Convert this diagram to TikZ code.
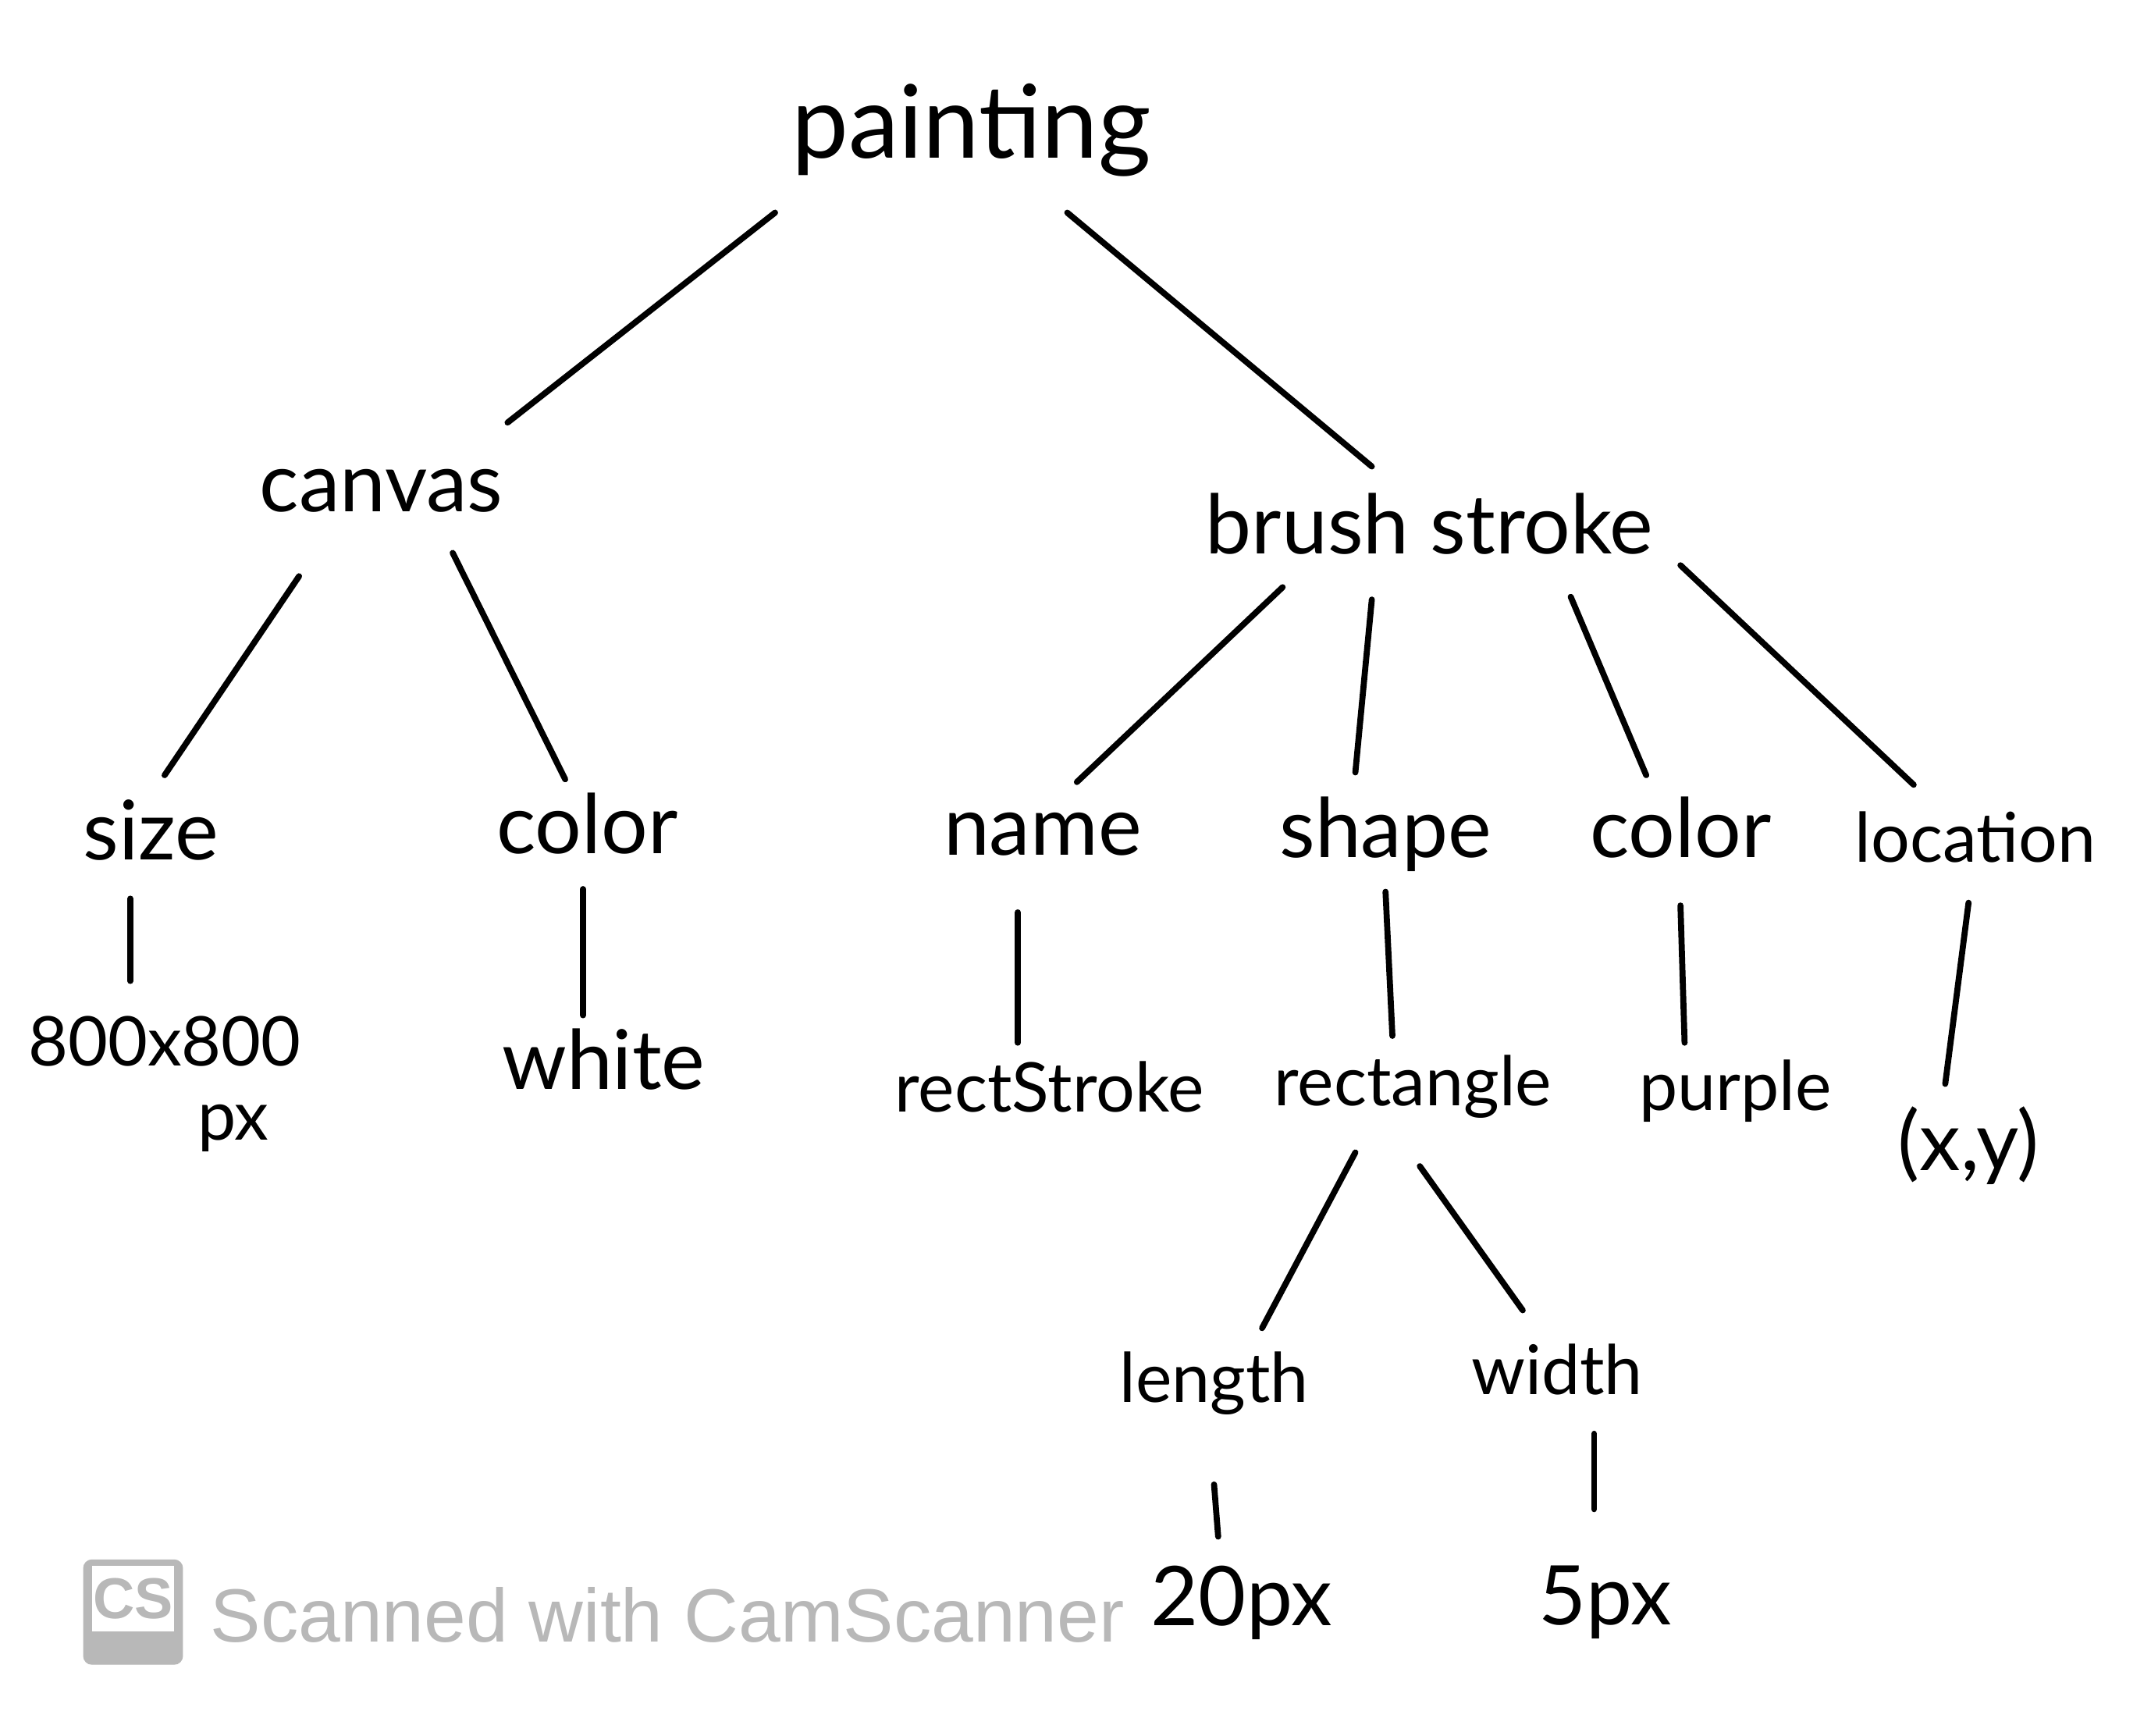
\documentclass[tikz,border=0pt]{standalone}
\usepackage{fontspec}
\setmainfont{Lato}
\newfontfamily\wmfont{Liberation Sans}
\begin{document}
\begin{tikzpicture}[x=0.017577cm,y=-0.017577cm,
  lbl/.style={font=\fontsize{30}{34}\selectfont, inner sep=4pt, align=center},
  sml/.style={lbl, font=\fontsize{25}{29}\selectfont},
  big/.style={lbl, font=\fontsize{37}{40}\selectfont},
  edge/.style={line width=2.2pt, line cap=round},
  wm/.style={text=black!28, font=\wmfont\fontsize{27.5}{32}\selectfont, inner sep=0pt}]
\useasboundingbox (0,0) rectangle (1568,1265);
\fill[white] (0,0) rectangle (1568,1265);
% nodes
\node[big] (painting) at (708,95) {painting};
\node[lbl] (canvas) at (278,358) {canvas};
\node[lbl] (brush) at (1042,382) {brush stroke};
\node[lbl] (size) at (110,605) {size};
\node[lbl] (ccolor) at (428,600) {color};
\node[lbl] (name) at (760,608) {name};
\node[lbl] (shape) at (1010,608) {shape};
\node[lbl] (bcolor) at (1225,603) {color};
\node[sml] (location) at (1440,610) {location};
\node[sml] (size800) at (120,790) {800x800\\[-2pt]\hspace*{2em}px};
\node[lbl] (white) at (440,772) {white};
\node[sml] (rectstroke) at (765,792) {rectStroke};
\node[sml] (rectangle) at (1030,792) {rectangle};
\node[sml] (purple) at (1265,795) {purple};
\node[lbl] (xy) at (1435,835) {(x,y)};
\node[sml] (length) at (885,1008) {length};
\node[sml] (width) at (1135,998) {width};
\node[lbl] (px20) at (905,1168) {20px};
\node[lbl] (px5) at (1170,1168) {5px};
% connectors
\draw[edge] ([shift={(-143,60)}]painting.center) -- ([shift={(92,-50)}]canvas.center);
\draw[edge] ([shift={(70,60)}]painting.center) -- ([shift={(-42,-42)}]brush.center);
\draw[edge] ([shift={(-60,62)}]canvas.center) -- ([shift={(10,-40)}]size.center);
\draw[edge] ([shift={(52,45)}]canvas.center) -- ([shift={(-16,-32)}]ccolor.center);
\draw[edge] ([shift={(-107,46)}]brush.center) -- ([shift={(25,-38)}]name.center);
\draw[edge] ([shift={(-42,55)}]brush.center) -- ([shift={(-22,-45)}]shape.center);
\draw[edge] ([shift={(103,53)}]brush.center) -- ([shift={(-25,-38)}]bcolor.center);
\draw[edge] ([shift={(183,30)}]brush.center) -- ([shift={(-45,-38)}]location.center);
\draw[edge] ([shift={(-15,50)}]size.center) -- ([shift={(-25,-75)}]size800.center);
\draw[edge] ([shift={(-3,48)}]ccolor.center) -- ([shift={(-15,-32)}]white.center);
\draw[edge] ([shift={(-18,57)}]name.center) -- ([shift={(-23,-32)}]rectstroke.center);
\draw[edge] ([shift={(0,42)}]shape.center) -- ([shift={(-15,-37)}]rectangle.center);
\draw[edge] ([shift={(0,57)}]bcolor.center) -- ([shift={(-37,-35)}]purple.center);
\draw[edge] ([shift={(-5,48)}]location.center) -- ([shift={(-17,-45)}]xy.center);
\draw[edge] ([shift={(-42,48)}]rectangle.center) -- ([shift={(35,-40)}]length.center);
\draw[edge] ([shift={(5,58)}]rectangle.center) -- ([shift={(-25,-43)}]width.center);
\draw[edge] ([shift={(0,74)}]length.center) -- ([shift={(-17,-48)}]px20.center);
\draw[edge] ([shift={(27,47)}]width.center) -- ([shift={(-8,-68)}]px5.center);
% watermark
\node[wm, draw=black!28, fill=black!28, rounded corners=3pt, minimum width=36pt, minimum height=38pt] (cslogo) at (97,1175) {};
\node[wm, fill=white, minimum width=30pt, minimum height=24pt, font=\wmfont\bfseries\fontsize{21}{23}\selectfont, anchor=north] (cstext) at ([yshift=-2pt]cslogo.north) {CS};
\node[wm, anchor=west] (scanned) at (153,1177) {Scanned with CamScanner};
\end{tikzpicture}
\end{document}
